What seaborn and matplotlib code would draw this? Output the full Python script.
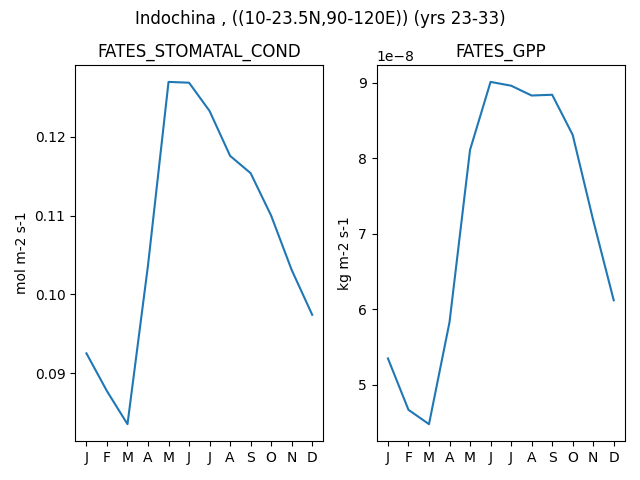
import matplotlib
matplotlib.use("Agg")
import matplotlib.pyplot as plt
import pandas as pd
import seaborn as sns

months = ["J", "F", "M", "A", "M", "J", "J", "A", "S", "O", "N", "D"]
month_num = list(range(1, 13))

stomatal_cond = [0.0925, 0.0877, 0.0835, 0.1037, 0.1270, 0.1269,
                 0.1233, 0.1176, 0.1154, 0.1100, 0.1031, 0.0974]
gpp = [5.35e-8, 4.67e-8, 4.48e-8, 5.83e-8, 8.11e-8, 9.01e-8,
       8.96e-8, 8.83e-8, 8.84e-8, 8.31e-8, 7.18e-8, 6.12e-8]

df = pd.DataFrame({"month": month_num, "cond": stomatal_cond, "gpp": gpp})

fig, axes = plt.subplots(1, 2, figsize=(6.4, 4.8), dpi=100)

sns.lineplot(data=df, x="month", y="cond", ax=axes[0])
axes[0].set_title("FATES_STOMATAL_COND")
axes[0].set_ylabel("mol m-2 s-1")

sns.lineplot(data=df, x="month", y="gpp", ax=axes[1])
axes[1].set_title("FATES_GPP")
axes[1].set_ylabel("kg m-2 s-1")

for ax in axes:
    ax.set_xlabel("")
    ax.set_xticks(month_num)
    ax.set_xticklabels(months)

fig.suptitle("Indochina , ((10-23.5N,90-120E)) (yrs 23-33)")
fig.tight_layout()
fig.subplots_adjust(top=0.865)
fig.savefig("out.png")
